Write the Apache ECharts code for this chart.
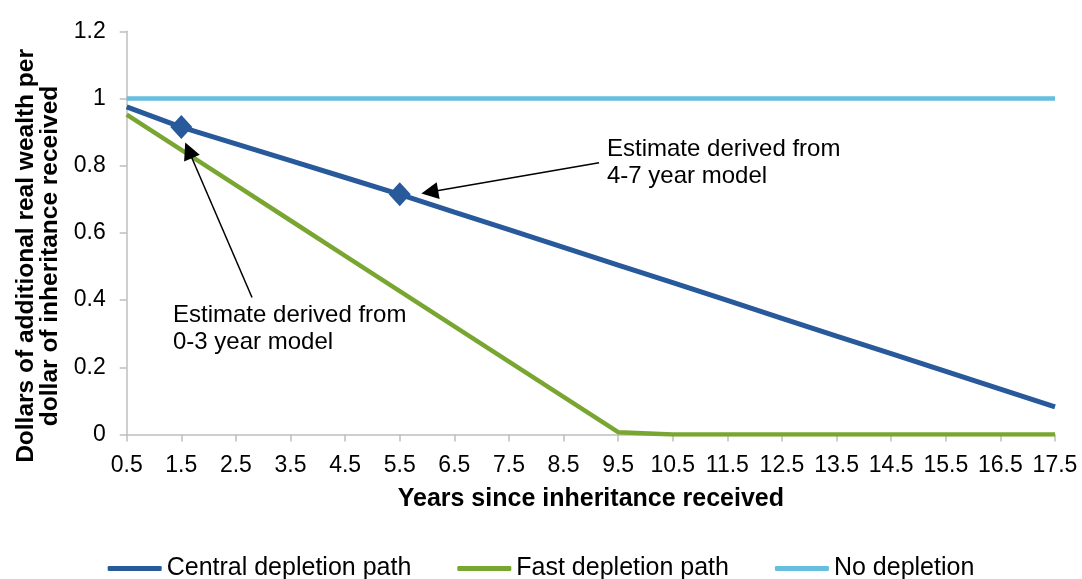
<!DOCTYPE html>
<html>
<head>
<meta charset="utf-8">
<title>Depletion of inherited wealth</title>
<script src="https://cdn.jsdelivr.net/npm/echarts@6/dist/echarts.min.js"></script>
<style>
  html, body { margin: 0; padding: 0; background: #fff; }
  #chart { width: 1082px; height: 579px; }
</style>
</head>
<body>
<div id="chart"></div>
<script>
// Years since the inheritance was received (category ticks)
const years = ['0.5', '1.5', '2.5', '3.5', '4.5', '5.5', '6.5', '7.5', '8.5',
  '9.5', '10.5', '11.5', '12.5', '13.5', '14.5', '15.5', '16.5', '17.5'];

// Dollars of additional real wealth per dollar of inheritance
const centralPath = [0.975, 0.915, 0.865, 0.815, 0.765, 0.715, 0.662, 0.610, 0.557,
  0.504, 0.452, 0.399, 0.346, 0.293, 0.241, 0.188, 0.135, 0.082];
const fastPath = [0.952, 0.847, 0.742, 0.637, 0.532, 0.427, 0.322, 0.217, 0.112,
  0.007, 0, 0, 0, 0, 0, 0, 0, 0];
const noDepletion = [1, 1, 1, 1, 1, 1, 1, 1, 1, 1, 1, 1, 1, 1, 1, 1, 1, 1];

// Years at which the model estimates sit on the central path
const estimateYears = ['1.5', '5.5'];

// Callout arrows: [tail year, tail value] -> [head year, head value]
const calloutLate = [[9.15, 0.809], [6.05, 0.722]];
const calloutEarly = [[2.795, 0.408], [1.633, 0.846]];

const FONT = "'Liberation Sans', Arial, sans-serif";
const AXIS_GREY = '#bfbfbf';

const chart = echarts.init(document.getElementById('chart'), null, { renderer: 'canvas' });

const centralData = centralPath.map((v, i) =>
  estimateYears.includes(years[i])
    ? { value: v, symbol: 'diamond', symbolSize: [22, 24] }
    : { value: v, symbol: 'none' });

function arrow(pair) {
  return [
    { coord: pair[0], symbol: 'none' },
    { coord: pair[1], symbol: 'triangle', symbolSize: 17 }
  ];
}

chart.setOption({
  animation: false,
  textStyle: { fontFamily: FONT },
  grid: { left: 126.7, right: 27, top: 30, bottom: 144.5, containLabel: false },
  legend: {
    top: 551,
    left: 'center',
    data: ['Central depletion path', 'Fast depletion path', 'No depletion'],
    icon: 'roundRect',
    itemWidth: 54,
    itemHeight: 5,
    itemGap: 46,
    selectedMode: false,
    textStyle: { fontSize: 25, color: '#000', fontFamily: FONT }
  },
  xAxis: [{
    type: 'category',
    data: years,
    boundaryGap: false,
    name: 'Years since inheritance received',
    nameLocation: 'middle',
    nameGap: 52,
    nameTextStyle: { fontSize: 25, fontWeight: 'bold', color: '#000', fontFamily: FONT },
    axisLine: { lineStyle: { color: AXIS_GREY, width: 1.5 } },
    axisTick: { show: true, interval: 0, length: 7, lineStyle: { color: AXIS_GREY, width: 1.5 } },
    axisLabel: { interval: 0, margin: 20, fontSize: 23, color: '#000', fontFamily: FONT },
    splitLine: { show: false }
  }, {
    // hidden linear axis spanning the same years, used to place the callouts
    type: 'value',
    min: 0.5,
    max: 17.5,
    show: false
  }],
  yAxis: {
    type: 'value',
    min: 0,
    max: 1.2,
    interval: 0.2,
    name: 'Dollars of additional real wealth per\ndollar of inheritance received',
    nameLocation: 'middle',
    nameRotate: 90,
    nameGap: 60.5,
    nameTextStyle: {
      fontSize: 24.5, fontWeight: 'bold', color: '#000', fontFamily: FONT,
      lineHeight: 24, align: 'center', padding: [0, 46, 0, 0]
    },
    axisLine: { show: true, lineStyle: { color: AXIS_GREY, width: 1.5 } },
    axisTick: { show: true, length: 7, lineStyle: { color: AXIS_GREY, width: 1.5 } },
    axisLabel: { margin: 21, fontSize: 23, color: '#000', fontFamily: FONT },
    splitLine: { show: false }
  },
  series: [
    {
      name: 'No depletion',
      type: 'line',
      data: noDepletion,
      symbol: 'none',
      lineStyle: { color: '#67bfdf', width: 4.5 },
      itemStyle: { color: '#67bfdf' },
      z: 2
    },
    {
      name: 'Fast depletion path',
      type: 'line',
      data: fastPath,
      symbol: 'none',
      lineStyle: { color: '#79a531', width: 4.5 },
      itemStyle: { color: '#79a531' },
      z: 3
    },
    {
      name: 'Central depletion path',
      type: 'line',
      data: centralData,
      showSymbol: true,
      showAllSymbol: true,
      lineStyle: { color: '#27599b', width: 5 },
      itemStyle: { color: '#27599b' },
      z: 4
    },
    {
      name: 'callouts',
      type: 'line',
      xAxisIndex: 1,
      data: [],
      silent: true,
      z: 6,
      markLine: {
        silent: true,
        animation: false,
        label: { show: false },
        lineStyle: { color: '#000', width: 1.5, type: 'solid' },
        emphasis: { disabled: true },
        data: [arrow(calloutLate), arrow(calloutEarly)]
      }
    }
  ],
  graphic: [
    {
      type: 'text',
      x: 607,
      y: 135.5,
      style: {
        text: 'Estimate derived from\n4-7 year model',
        font: "24px 'Liberation Sans', Arial, sans-serif",
        lineHeight: 27.5,
        fill: '#000',
        verticalAlign: 'top'
      },
      z: 10
    },
    {
      type: 'text',
      x: 173,
      y: 302.5,
      style: {
        text: 'Estimate derived from\n0-3 year model',
        font: "24px 'Liberation Sans', Arial, sans-serif",
        lineHeight: 26.5,
        fill: '#000',
        verticalAlign: 'top'
      },
      z: 10
    }
  ]
});
</script>
</body>
</html>
